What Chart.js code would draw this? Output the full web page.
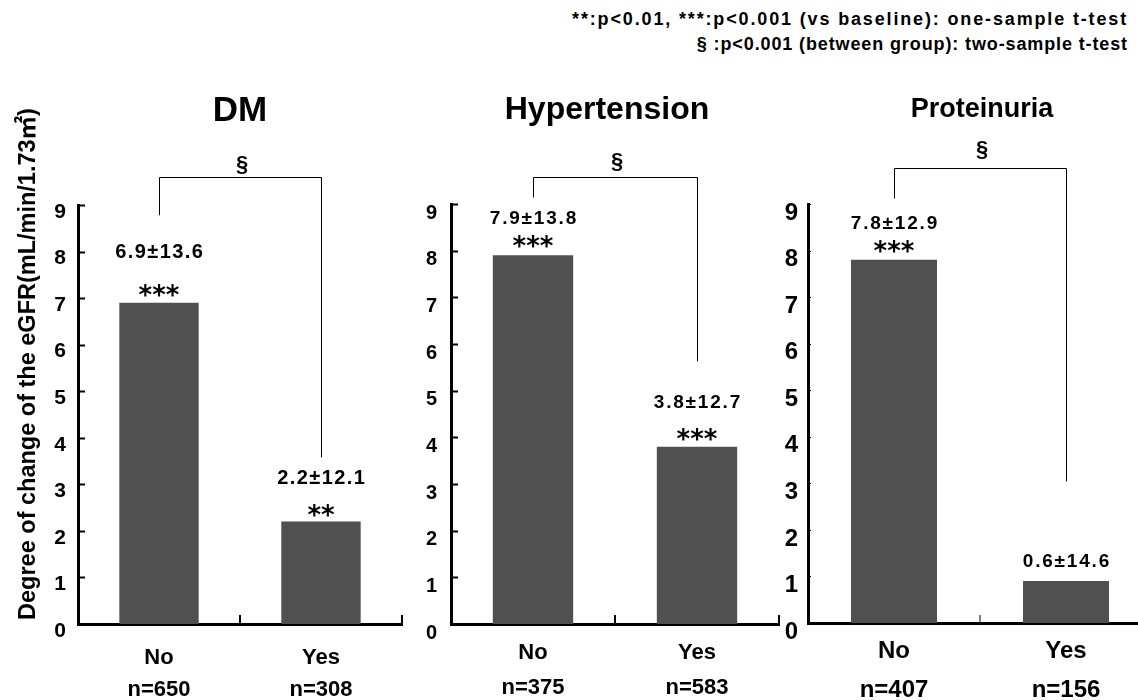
<!DOCTYPE html>
<html><head><meta charset="utf-8">
<script src="https://cdn.jsdelivr.net/npm/chart.js@4"></script>
<style>
html,body{margin:0;padding:0;background:#fff;width:1138px;height:700px;overflow:hidden;position:relative;}
canvas{position:absolute;left:0;top:0;}
.note{position:absolute;right:10px;font:bold 18px "Liberation Sans",Arial,sans-serif;color:#000;white-space:pre;text-align:right;line-height:22px;}
</style></head><body>
<div class="note" id="n1" style="top:8px"></div>
<div class="note" id="n2" style="top:33px"></div>
<canvas id="c1" width="1160" height="700"></canvas>
<canvas id="c2" width="1160" height="700"></canvas>
<canvas id="c3" width="1160" height="700"></canvas>
<script>
// ---- data ----
const panelTitles = ['DM', 'Hypertension', 'Proteinuria'];
const groups = ['No', 'Yes'];
const dmN = ['n=650', 'n=308'];
const htN = ['n=375', 'n=583'];
const prN = ['n=407', 'n=156'];
const dmMeans = [6.9, 2.2];
const htMeans = [7.9, 3.8];
const prMeans = [7.8, 0.9];
const dmLabels = ['6.9±13.6', '2.2±12.1'];
const htLabels = ['7.9±13.8', '3.8±12.7'];
const prLabels = ['7.8±12.9', '0.6±14.6'];
const dmStars = ['***', '**'];
const htStars = ['***', '***'];
const prStars = ['***', ''];
const yMin = 0, yMax = 9, yStep = 1;
const yTitle = 'Degree of change of the eGFR(mL/min/1.73㎡)';
const sigMark = '§';
const noteLines = ['**:p<0.01, ***:p<0.001 (vs baseline): one-sample t-test',
                   '§ :p<0.001 (between group): two-sample t-test'];

// ---- layout / style (not data) ----
const FF = '"Liberation Sans", Arial, "Noto Sans CJK JP", sans-serif';
const noteWidths = [556, 431];
const layouts = [
  {L:78, R:402, T:205, B:624, yw:78, xh:80, yFont:21, yPad:12, yLabOff:7,
   xFont:22, xLine:32/22, xPad:18, tickLen:7, tickW:2, xTickLen:9, xTickW:2, barPct:0.49,
   valFont:20, valLS:1.4, labOff:[52,45], starOff:[12,11], titleX:240, titleY:109, titleFont:35,
   br:{top:9.6, legs:[8.78,3.58]}, sectUp:13, yTitleOn:true},
  {L:451, R:779, T:204, B:624, yw:80, xh:80, yFont:20, yPad:14, yLabOff:9,
   xFont:22, xLine:35/22, xPad:11.5, tickLen:7, tickW:2, xTickLen:9, xTickW:2, barPct:0.49,
   valFont:19, valLS:1.8, labOff:[38,45], starOff:[14,12], titleX:607, titleY:111, titleFont:32,
   br:{top:9.58, legs:[9.14,5.63]}, sectUp:16, yTitleOn:false},
  {L:808, R:1152, T:204, B:623, yw:80, xh:80, yFont:24, yPad:10, yLabOff:9,
   xFont:24, xLine:39/24, xPad:8.5, tickLen:3, tickW:1, xTickLen:8, xTickW:1, barPct:0.5,
   valFont:19, valLS:1.8, labOff:[37,21], starOff:[13,0], titleX:982, titleY:107, titleFont:27,
   br:{top:9.77, legs:[9.12,3.04]}, sectUp:19, yTitleOn:false}
];

// note text (real text), spaced to the reference width
(function () {
  const mc = document.createElement('canvas').getContext('2d');
  mc.font = 'bold 18px ' + FF;
  ['n1', 'n2'].forEach((id, i) => {
    const el = document.getElementById(id);
    el.textContent = noteLines[i];
    const w = mc.measureText(noteLines[i]).width;
    const ls = (noteWidths[i] - w) / noteLines[i].length;
    el.style.letterSpacing = ls.toFixed(2) + 'px';
  });
})();

function centerText(ctx, txt, x, cy, ls) {
  ctx.letterSpacing = (ls || 0) + 'px';
  const m = ctx.measureText(txt);
  const asc = m.actualBoundingBoxAscent, desc = m.actualBoundingBoxDescent;
  ctx.textAlign = 'center';
  ctx.textBaseline = 'alphabetic';
  ctx.fillText(txt, x + (ls || 0) / 2, cy + (asc - desc) / 2);
  ctx.letterSpacing = '0px';
}

function makeAnnot(idx, labels, stars) {
  const lay = layouts[idx];
  return {
    id: 'annot' + idx,
    afterDraw(chart) {
      const ctx = chart.ctx, xs = chart.scales.x, ys = chart.scales.y, ca = chart.chartArea;
      ctx.save();
      ctx.strokeStyle = '#000';
      ctx.fillStyle = '#000';
      // inward y ticks
      ctx.lineWidth = lay.tickW;
      ys.ticks.forEach(t => {
        if (t.value === yMin) return;
        const py = Math.round(ys.getPixelForValue(t.value)) + 0.5;
        ctx.beginPath(); ctx.moveTo(ca.left, py); ctx.lineTo(ca.left + lay.tickLen, py); ctx.stroke();
      });
      // inward x ticks at category boundaries
      ctx.lineWidth = lay.xTickW;
      for (let i = 1; i <= groups.length; i++) {
        const px = Math.round(xs.getPixelForValue(i - 0.5));
        ctx.beginPath(); ctx.moveTo(px, ca.bottom); ctx.lineTo(px, ca.bottom - lay.xTickLen); ctx.stroke();
      }
      // value labels and stars
      const meta = chart.getDatasetMeta(0);
      meta.data.forEach((bar, i) => {
        ctx.font = 'bold ' + lay.valFont + 'px ' + FF;
        centerText(ctx, labels[i], bar.x, bar.y - lay.labOff[i], lay.valLS);
        if (stars[i]) {
          ctx.font = 'bold 26px "DejaVu Sans", sans-serif';
          centerText(ctx, stars[i], bar.x, bar.y - lay.starOff[i]);
        }
      });
      // title
      ctx.font = 'bold ' + lay.titleFont + 'px ' + FF;
      centerText(ctx, panelTitles[idx], lay.titleX, lay.titleY);
      // bracket
      const x0 = meta.data[0].x, x1 = meta.data[1].x;
      const yt = Math.round(ys.getPixelForValue(lay.br.top)) + 0.5;
      const yl = ys.getPixelForValue(lay.br.legs[0]);
      const yr = ys.getPixelForValue(lay.br.legs[1]);
      ctx.lineWidth = 1;
      ctx.beginPath();
      ctx.moveTo(Math.round(x0) + 0.5, yl); ctx.lineTo(Math.round(x0) + 0.5, yt);
      ctx.lineTo(Math.round(x1) + 0.5, yt); ctx.lineTo(Math.round(x1) + 0.5, yr);
      ctx.stroke();
      ctx.font = 'bold 22px ' + FF;
      centerText(ctx, sigMark, (x0 + x1) / 2 + 2, yt - lay.sectUp);
      // y axis title
      if (lay.yTitleOn) {
        ctx.save();
        ctx.translate(26, 364);
        ctx.rotate(-Math.PI / 2);
        ctx.font = 'bold 23.5px ' + FF;
        centerText(ctx, yTitle, 0, 0);
        ctx.restore();
      }
      ctx.restore();
    }
  };
}

function makeChart(id, idx, means, nLabels, labels, stars) {
  const lay = layouts[idx];
  return new Chart(document.getElementById(id), {
    type: 'bar',
    data: {
      labels: groups.map((g, i) => [g, nLabels[i]]),
      datasets: [{ data: means, backgroundColor: '#505050', borderWidth: 0,
                   barPercentage: lay.barPct, categoryPercentage: 1 }]
    },
    options: {
      responsive: false, animation: false, devicePixelRatio: 1,
      layout: { padding: { left: lay.L - lay.yw, right: 1160 - lay.R, top: lay.T, bottom: 700 - lay.B - lay.xh } },
      plugins: { legend: { display: false }, tooltip: { enabled: false }, title: { display: false } },
      scales: {
        x: {
          offset: true,
          grid: { display: false, drawTicks: false },
          border: { display: true, color: '#000', width: 3 },
          ticks: { color: '#000', font: { family: FF, size: lay.xFont, weight: 'bold', lineHeight: lay.xLine },
                   padding: lay.xPad, maxRotation: 0, autoSkip: false },
          afterFit(s) { s.height = lay.xh; }
        },
        y: {
          min: yMin, max: yMax,
          grid: { display: false, drawTicks: false },
          border: { display: true, color: '#000', width: 3 },
          ticks: { stepSize: yStep, color: '#000', font: { family: FF, size: lay.yFont, weight: 'bold' },
                   padding: lay.yPad, labelOffset: lay.yLabOff },
          afterFit(s) { s.width = lay.yw; }
        }
      }
    },
    plugins: [makeAnnot(idx, labels, stars)]
  });
}

makeChart('c1', 0, dmMeans, dmN, dmLabels, dmStars);
makeChart('c2', 1, htMeans, htN, htLabels, htStars);
makeChart('c3', 2, prMeans, prN, prLabels, prStars);
</script>
</body></html>
